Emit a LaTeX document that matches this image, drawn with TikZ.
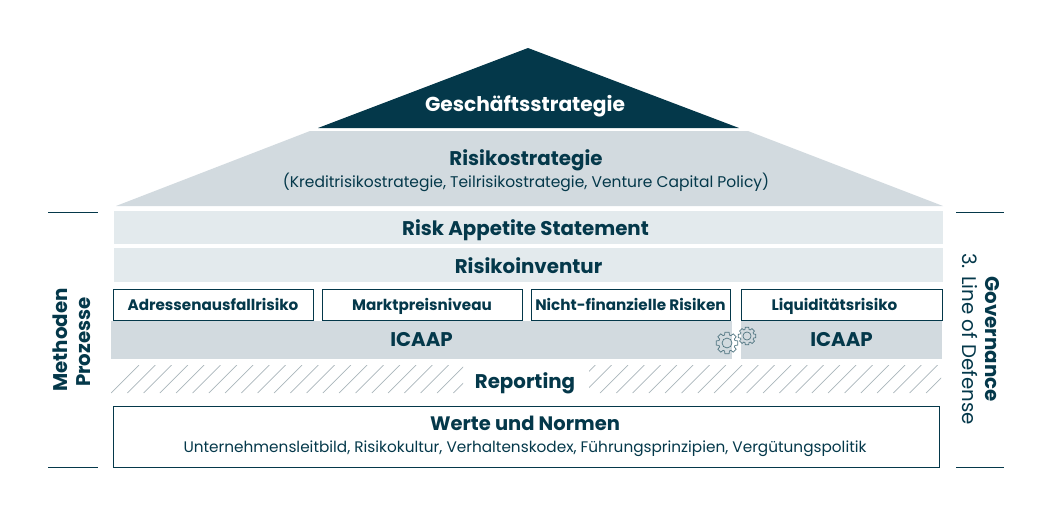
\documentclass[tikz,border=0pt]{standalone}
\usepackage{fontspec}
\setmainfont{Poppins}
\usepackage{tikz}

\definecolor{navy}{HTML}{04384A}
\definecolor{midgrey}{HTML}{D2DADF}
\definecolor{palegrey}{HTML}{E3EAED}
\definecolor{hatchgrey}{HTML}{A9B5BB}

\tikzset{
  head/.style={text=navy, inner sep=0pt, text height=14pt, text depth=0pt, font=\bfseries\fontsize{19.8}{20}\selectfont},
  band/.style={head, fill=palegrey},
  icaap/.style={head, fill=midgrey},
  riskbox/.style={draw=navy, fill=white, line width=1pt, text=navy, inner sep=0pt, minimum height=31pt, text height=11pt, text depth=0pt, font=\bfseries\fontsize{15.2}{16}\selectfont},
  small/.style={text=navy, inner sep=0pt, text height=11pt, text depth=0pt, font=\fontsize{15.5}{16}\selectfont},
  rule/.style={draw=navy, line width=1pt},
  hatchline/.style={draw=hatchgrey, line width=0.7pt},
  gearline/.style={draw=navy!70, line width=0.7pt}
}

\newcommand{\gearicon}[3]{%
  \draw[gearline] (#1,#2) circle ({0.45*#3});
  \draw[gearline] ([shift={(#1,#2)}]-11:#3)
    \foreach \a in {0,45,...,315} {
      -- ([shift={(#1,#2)}]\a-11:#3) -- ([shift={(#1,#2)}]\a+11:#3)
      -- ([shift={(#1,#2)}]\a+17:0.76*#3) -- ([shift={(#1,#2)}]\a+28:0.76*#3)
    } -- cycle;
}

\begin{document}
\begin{tikzpicture}[x=1pt, y=-1pt]

    \useasboundingbox (0,0) rectangle (1053,520);

    % roof
    \fill[navy] (528,48) -- (739,128) -- (318,128) -- cycle;
    \fill[midgrey] (310,131) -- (748,131) -- (943,206) -- (116,206) -- cycle;
    \node[head, text=white, font=\bfseries\fontsize{20.2}{20}\selectfont] at (525,104) (strategy) {Geschäftsstrategie};
    \node[head] at (526,158) (risk) {Risikostrategie};
    \node[small] at (526,182) (risksub) {(Kreditrisikostrategie, Teilrisikostrategie, Venture Capital Policy)};

    % bands
    \node[band, minimum width=829pt, minimum height=33pt] at (528.5,227.5) (appetite) {\raisebox{-1pt}{\hspace{-6pt}Risk Appetite Statement}};
    \node[band, minimum width=829pt, minimum height=34pt] at (528.5,265) (inventur) {\raisebox{-1pt}{Risikoinventur}};

    % icaap blocks
    \node[icaap, minimum width=621pt, minimum height=38pt] at (421.5,339.5) (icaapa) {ICAAP};
    \node[icaap, minimum width=201pt, minimum height=38pt] at (841.5,339.5) (icaapb) {ICAAP};

    % risk types
    \node[riskbox, minimum width=200pt] at (213,304.5) (adress) {Adressenausfallrisiko};
    \node[riskbox, minimum width=200pt] at (422,304.5) (markt) {Marktpreisniveau};
    \node[riskbox, minimum width=199pt] at (630.5,304.5) (nicht) {Nicht-finanzielle Risiken};
    \node[riskbox, minimum width=201pt] at (841.5,304.5) (liquid) {Liquiditätsrisiko\kern14pt};

    % gears
    \gearicon{727}{343}{11}
    \gearicon{747}{336}{9}

    % hatching
    \begin{scope}
      \clip (111,365) rectangle (463,393) (589,365) rectangle (941,393);
      \foreach \i in {0,...,52} {
        \draw[hatchline] (111+16.3*\i,393) -- +(28,-28);
      }
    \end{scope}
    \node[head] at (525,381) (report) {Reporting};

    % base
    \node[draw=navy, line width=1pt, minimum width=826pt, minimum height=61pt] at (526.5,436.5) (base) {};
    \node[head, font=\bfseries\fontsize{19.5}{20}\selectfont] at (525,423) (werte) {Werte und Normen};
    \node[small, font=\fontsize{15.3}{16}\selectfont] at (525,447) (wertesub) {Unternehmensleitbild, Risikokultur, Verhaltenskodex, Führungsprinzipien, Vergütungspolitik};

    % side labels
    \coordinate (la) at (48,212);
    \coordinate (lb) at (98,212);
    \coordinate (lc) at (48,467);
    \coordinate (ld) at (98,467);
    \coordinate (ra) at (956,212);
    \coordinate (rb) at (1004,212);
    \coordinate (rc) at (956,467);
    \coordinate (rd) at (1004,467);
    \draw[rule] (la) -- (lb);
    \draw[rule] (lc) -- (ld);
    \draw[rule] (ra) -- (rb);
    \draw[rule] (rc) -- (rd);

    \node[head, rotate=90] at (60,340) (methoden) {Methoden};
    \node[head, rotate=90] at (83,342) (prozesse) {Prozesse};
    \node[head, rotate=-90] at (992,339) (governance) {Governance};
    \node[head, rotate=-90, font=\fontsize{19.8}{20}\selectfont] at (969,339) (defense) {3. Line of Defense};

\end{tikzpicture}
\end{document}
